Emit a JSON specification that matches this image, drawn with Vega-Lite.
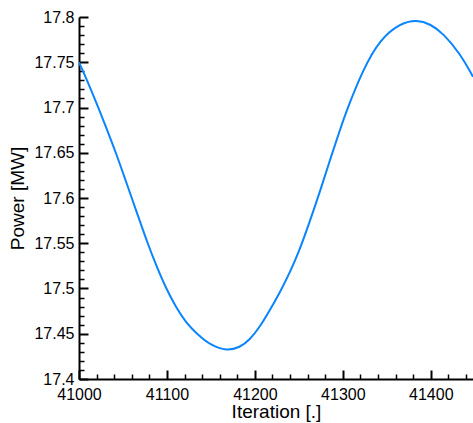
{
  "$schema": "https://vega.github.io/schema/vega-lite/v6.json",
  "width": 394,
  "height": 362,
  "autosize": {"type": "none"},
  "padding": {"left": 79, "top": 17, "right": 0, "bottom": 44},
  "background": "white",
  "config": {
    "view": {"stroke": null},
    "font": "Liberation Sans"
  },
  "data": {
    "values": [
      {"iter": 41000, "power": 17.750},
      {"iter": 41011, "power": 17.726},
      {"iter": 41022, "power": 17.700},
      {"iter": 41032, "power": 17.675},
      {"iter": 41042, "power": 17.650},
      {"iter": 41051, "power": 17.625},
      {"iter": 41060, "power": 17.600},
      {"iter": 41069, "power": 17.575},
      {"iter": 41078, "power": 17.550},
      {"iter": 41088, "power": 17.525},
      {"iter": 41099, "power": 17.500},
      {"iter": 41111, "power": 17.478},
      {"iter": 41122, "power": 17.462},
      {"iter": 41134, "power": 17.450},
      {"iter": 41150, "power": 17.437},
      {"iter": 41168, "power": 17.431},
      {"iter": 41183, "power": 17.435},
      {"iter": 41194, "power": 17.443},
      {"iter": 41206, "power": 17.458},
      {"iter": 41217, "power": 17.476},
      {"iter": 41228, "power": 17.495},
      {"iter": 41240, "power": 17.518},
      {"iter": 41251, "power": 17.543},
      {"iter": 41262, "power": 17.573},
      {"iter": 41274, "power": 17.607},
      {"iter": 41285, "power": 17.641},
      {"iter": 41297, "power": 17.676},
      {"iter": 41304, "power": 17.696},
      {"iter": 41323, "power": 17.742},
      {"iter": 41342, "power": 17.775},
      {"iter": 41365, "power": 17.793},
      {"iter": 41384, "power": 17.797},
      {"iter": 41400, "power": 17.792},
      {"iter": 41414, "power": 17.782},
      {"iter": 41433, "power": 17.760},
      {"iter": 41448, "power": 17.734}
    ]
  },
  "mark": {"type": "line", "color": "#0a84ff", "strokeWidth": 2, "interpolate": "basis", "clip": true},
  "encoding": {
    "x": {
      "field": "iter",
      "type": "quantitative",
      "scale": {"domain": [41000, 41448], "nice": false, "zero": false},
      "axis": {
        "title": "Iteration [.]",
        "titleFontSize": 19,
        "titleFontWeight": "normal",
        "titleColor": "black",
        "titleBaseline": "alphabetic",
        "titleY": 38,
        "values": [41000,41020,41040,41060,41080,41100,41120,41140,41160,41180,41200,41220,41240,41260,41280,41300,41320,41340,41360,41380,41400,41420,41440],
        "labelExpr": "datum.value % 100 === 0 ? format(datum.value, 'd') : ''",
        "labelFontSize": 16,
        "labelColor": "black",
        "labelFlush": false,
        "labelOverlap": false,
        "labelPadding": 16,
        "grid": false,
        "domainColor": "black",
        "domainWidth": 2,
        "tickColor": "black",
        "tickSize": {"condition": {"test": "datum.value % 100 === 0", "value": -9}, "value": -5},
        "tickWidth": {"condition": {"test": "datum.value % 100 === 0", "value": 2}, "value": 1.5}
      }
    },
    "y": {
      "field": "power",
      "type": "quantitative",
      "scale": {"domain": [17.4, 17.8], "nice": false, "zero": false},
      "axis": {
        "title": "Power [MW]",
        "titleFontSize": 19,
        "titleFontWeight": "normal",
        "titleColor": "black",
        "titlePadding": 6,
        "values": [17.40,17.41,17.42,17.43,17.44,17.45,17.46,17.47,17.48,17.49,17.50,17.51,17.52,17.53,17.54,17.55,17.56,17.57,17.58,17.59,17.60,17.61,17.62,17.63,17.64,17.65,17.66,17.67,17.68,17.69,17.70,17.71,17.72,17.73,17.74,17.75,17.76,17.77,17.78,17.79,17.80],
        "labelExpr": "round(datum.value * 100) % 5 === 0 ? format(datum.value, '~g') : ''",
        "labelFontSize": 16,
        "labelColor": "black",
        "labelFlush": false,
        "labelOverlap": false,
        "labelPadding": 14,
        "grid": false,
        "domainColor": "black",
        "domainWidth": 2,
        "tickColor": "black",
        "tickSize": {"condition": {"test": "round(datum.value * 100) % 5 === 0", "value": -9}, "value": -5},
        "tickWidth": {"condition": {"test": "round(datum.value * 100) % 5 === 0", "value": 2}, "value": 1.5}
      }
    }
  }
}
